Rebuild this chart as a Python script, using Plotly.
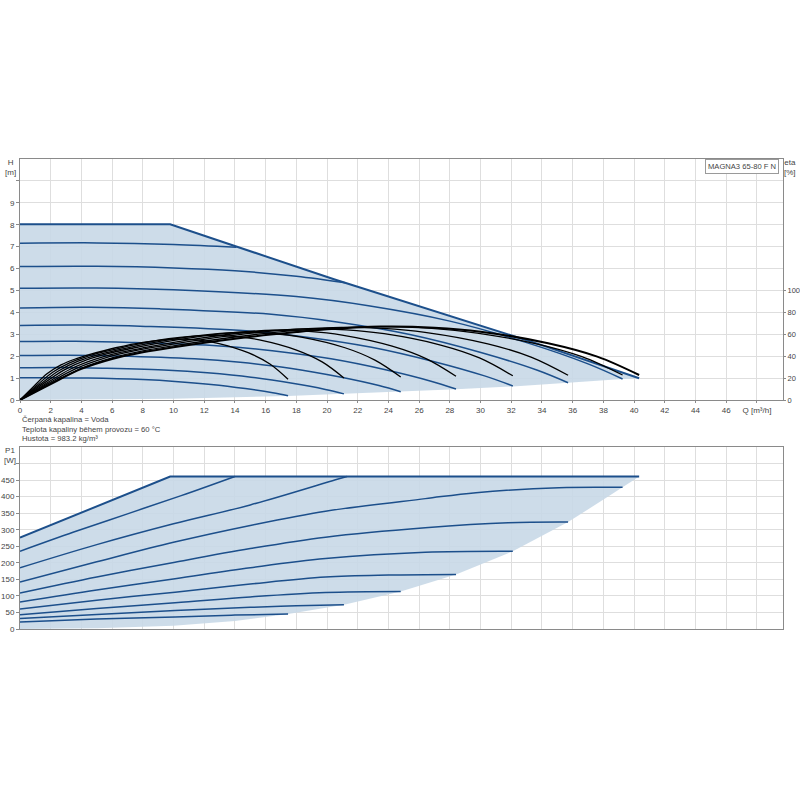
import plotly.graph_objects as go

# ---------------- data ----------------
# Q-H speed curves (Q in m3/h, H in m)
q_max = [0, 9.78, 20.5, 33.8, 40.33]
h_max = [8.02, 8.02, 5.5, 2.55, 0.99]

q_c7 = [0, 5, 10, 14.1]
h_c7 = [7.15, 7.17, 7.10, 6.97]
q_c6 = [0, 5, 10, 14, 18, 21.2]
h_c6 = [6.09, 6.10, 6.03, 5.90, 5.65, 5.35]
q_c5 = [0, 5, 10, 18, 22.7, 28, 33, 37, 39.25]
h_c5 = [5.10, 5.11, 5.03, 4.72, 4.30, 3.60, 2.62, 1.65, 0.96]
q_c4 = [0, 4.55, 9.10, 16.37, 20.65, 25.47, 30.02, 33.66, 35.70]
h_c4 = [4.20, 4.23, 4.16, 3.91, 3.56, 2.98, 2.17, 1.37, 0.79]
q_c3 = [0, 4.09, 8.18, 14.72, 18.56, 22.90, 26.99, 30.26, 32.10]
h_c3 = [3.40, 3.42, 3.36, 3.16, 2.88, 2.41, 1.75, 1.10, 0.64]
q_c2b = [0, 3.62, 7.24, 13.02, 16.43, 20.26, 23.88, 26.77, 28.40]
h_c2b = [2.67, 2.68, 2.63, 2.47, 2.25, 1.88, 1.37, 0.86, 0.50]
q_c2 = [0, 3.16, 6.32, 11.37, 14.34, 17.69, 20.85, 23.38, 24.80]
h_c2 = [2.03, 2.04, 2.01, 1.88, 1.72, 1.44, 1.05, 0.66, 0.38]
q_c1b = [0, 2.69, 5.38, 9.68, 12.20, 15.05, 17.74, 19.89, 21.10]
h_c1b = [1.47, 1.48, 1.45, 1.36, 1.24, 1.04, 0.76, 0.48, 0.28]
q_c1 = [0, 2.22, 4.45, 8.01, 10.10, 12.45, 14.68, 16.46, 17.46]
h_c1 = [1.01, 1.01, 1.00, 0.93, 0.85, 0.71, 0.52, 0.33, 0.19]

# lower edge of the operating area (curve end points)
q_low = [40.33, 39.25, 35.7, 32.1, 28.4, 24.8, 21.1, 17.46, 10, 0]
h_low = [0.99, 0.96, 0.79, 0.62, 0.49, 0.38, 0.27, 0.18, 0.06, 0]

# efficiency curves (eta in %)
q_e_max = [0, 2, 4, 6, 8, 10, 14, 18, 20, 23.5, 27, 30, 34.4, 37.6, 40.33]
e_e_max = [0, 14.6, 28.4, 37.5, 43.6, 48.2, 56, 62, 64.5, 67, 66, 62.4, 51.8, 39.6, 22.8]
q_e5 = [0, 2, 4, 6, 8, 10, 14, 18, 23, 26, 29, 33.5, 36.6, 39.25]
e_e5 = [0, 15, 29, 38.5, 44.8, 49.5, 57.5, 63.5, 67, 66, 62.4, 51.8, 39.6, 22.8]
q_e4 = [0, 1.82, 3.64, 5.46, 7.28, 9.10, 12.73, 16.37, 20.92, 23.65, 26.38, 30.47, 33.29, 35.70]
e_e4 = [0, 14.9, 28.7, 38.1, 44.4, 49.0, 56.9, 62.9, 66.3, 65.3, 61.8, 51.3, 39.2, 22.6]
q_e3 = [0, 1.64, 3.27, 4.91, 6.54, 8.18, 11.45, 14.72, 18.81, 21.26, 23.72, 27.40, 29.93, 32.10]
e_e3 = [0, 14.6, 28.1, 37.3, 43.5, 48.0, 55.8, 61.6, 65.0, 64.0, 60.5, 50.2, 38.4, 22.1]
q_e2b = [0, 1.45, 2.89, 4.34, 5.79, 7.24, 10.13, 13.02, 16.64, 18.81, 20.98, 24.24, 26.48, 28.40]
e_e2b = [0, 14.25, 27.55, 36.6, 42.6, 47.0, 54.6, 60.3, 63.65, 62.7, 59.3, 49.2, 37.6, 21.7]
q_e2 = [0, 1.26, 2.53, 3.79, 5.05, 6.32, 8.85, 11.37, 14.53, 16.43, 18.32, 21.17, 23.12, 24.80]
e_e2 = [0, 13.8, 26.7, 35.4, 41.2, 45.5, 52.9, 58.4, 61.6, 60.7, 57.4, 47.7, 36.4, 21.0]
q_e1b = [0, 1.08, 2.15, 3.23, 4.30, 5.38, 7.53, 9.68, 12.36, 13.98, 15.59, 18.01, 19.68, 21.10]
e_e1b = [0, 13.2, 25.5, 33.9, 39.4, 43.6, 50.6, 55.9, 59.0, 58.1, 54.9, 45.6, 34.8, 20.1]
q_e1 = [0, 0.89, 1.78, 2.67, 3.56, 4.45, 6.23, 8.01, 10.23, 11.56, 12.90, 14.90, 16.28, 17.46]
e_e1 = [0, 12.45, 24.1, 32.0, 37.2, 41.1, 47.7, 52.7, 55.6, 54.8, 51.8, 43.0, 32.9, 18.9]

# power curves P1 (W)
qp_max = [0, 9.78, 40.33]
p_max = [276, 461, 461]
qp_c7 = [0, 3.5, 7, 10.5, 14.0]
p_c7 = [235, 293, 348, 403, 461]
qp_c6 = [0, 5, 10, 15, 20.55, 21.3]
p_c6 = [185, 255, 318, 375, 451, 461]
qp_c5 = [0, 5, 10, 15, 19.9, 26.4, 29.7, 35.1, 39.25]
p_c5 = [142, 203, 262, 313, 356, 394, 412, 427, 428]
qp_c4 = [0, 5, 10.1, 15, 19.9, 26.4, 31.8, 35.7]
p_c4 = [108.5, 157, 202, 243, 277.5, 306, 321, 323]
qp_c3 = [0, 5, 10.1, 15, 19.9, 26.4, 32.1]
p_c3 = [81.5, 118, 152, 185, 212.8, 232, 235]
qp_c2b = [0, 5, 10.1, 15, 19.9, 24, 28.4]
p_c2b = [60.5, 87, 111.4, 136, 157, 163, 165]
qp_c2 = [0, 5, 10.1, 15, 19.9, 24.8]
p_c2 = [43, 62, 79, 97, 110.4, 113.5]
qp_c1b = [0, 5, 10.1, 15, 18, 21.1]
p_c1b = [31.5, 44, 55.7, 65.5, 70, 73]
qp_c1 = [0, 5, 10.1, 14, 17.46]
p_c1 = [21, 30, 36.5, 42, 45.6]

qp_low = [40.33, 39.25, 35.7, 32.1, 28.4, 24.8, 21.1, 17.46, 14, 10, 5, 0]
p_low = [461, 428, 323, 235, 165, 113.5, 73, 45.6, 24, 10, 2, 0]

x_ticks = list(range(0, 50, 2))
x_ticktext = [str(v) for v in range(0, 48, 2)] + ["Q [m³/h]"]

# ---------------- styling ----------------
BLUE = "#1c4f8b"
FILL = "rgba(200,216,231,0.9)"
GRID = "#dedede"
AXL = "#8a8a8a"
TXT = "#444444"
FONT = "Liberation Sans, Arial, sans-serif"

W = 800

fig = go.Figure()

# top chart: fill
fig.add_trace(go.Scatter(x=q_max + q_low, y=h_max + h_low, fill="toself",
                         fillcolor=FILL, line=dict(width=0), mode="lines",
                         hoverinfo="skip", xaxis="x", yaxis="y"))
qh = [(q_c7, h_c7), (q_c6, h_c6), (q_c5, h_c5), (q_c4, h_c4), (q_c3, h_c3),
      (q_c2b, h_c2b), (q_c2, h_c2), (q_c1b, h_c1b), (q_c1, h_c1)]
for qq, hh in qh:
    fig.add_trace(go.Scatter(x=qq, y=hh, mode="lines",
                             line=dict(color=BLUE, width=1.5, shape="spline", smoothing=1.0),
                             xaxis="x", yaxis="y"))
fig.add_trace(go.Scatter(x=q_max, y=h_max, mode="lines",
                         line=dict(color=BLUE, width=2), xaxis="x", yaxis="y"))

eta = [(q_e1, e_e1), (q_e1b, e_e1b), (q_e2, e_e2), (q_e2b, e_e2b), (q_e3, e_e3),
       (q_e4, e_e4), (q_e5, e_e5)]
for qq, ee in eta:
    fig.add_trace(go.Scatter(x=qq, y=ee, mode="lines",
                             line=dict(color="black", width=1.3, shape="spline", smoothing=1.0),
                             xaxis="x", yaxis="y2"))
fig.add_trace(go.Scatter(x=q_e_max, y=e_e_max, mode="lines",
                         line=dict(color="black", width=2, shape="spline", smoothing=1.0),
                         xaxis="x", yaxis="y2"))

# bottom chart
fig.add_trace(go.Scatter(x=qp_max + qp_low, y=p_max + p_low, fill="toself",
                         fillcolor=FILL, line=dict(width=0), mode="lines",
                         hoverinfo="skip", xaxis="x2", yaxis="y3"))
pw = [(qp_c7, p_c7), (qp_c6, p_c6), (qp_c5, p_c5), (qp_c4, p_c4), (qp_c3, p_c3),
      (qp_c2b, p_c2b), (qp_c2, p_c2), (qp_c1b, p_c1b), (qp_c1, p_c1)]
for qq, pp in pw:
    fig.add_trace(go.Scatter(x=qq, y=pp, mode="lines",
                             line=dict(color=BLUE, width=1.5, shape="spline", smoothing=1.0),
                             xaxis="x2", yaxis="y3"))
fig.add_trace(go.Scatter(x=qp_max, y=p_max, mode="lines",
                         line=dict(color=BLUE, width=2), xaxis="x2", yaxis="y3"))

axis_common = dict(showgrid=True, gridcolor=GRID, gridwidth=1, showline=True,
                   linecolor=AXL, linewidth=1, ticks="outside", ticklen=3,
                   tickcolor=AXL, tickfont=dict(size=8, color=TXT, family=FONT),
                   zeroline=False, automargin=False)


def py_paper(p):
    # screen pixel row -> paper y
    return 1 - p / W


def px_x(p):
    # screen pixel column -> paper x (plot area 20..783 on screen)
    return (p - 20) / 763.0


top_dom = [py_paper(400), py_paper(159)]
bot_dom = [py_paper(629), py_paper(447)]

fig.update_layout(
    width=W, height=W, autosize=False,
    margin=dict(l=20, r=W - 783, t=0, b=0, pad=0),
    paper_bgcolor="white", plot_bgcolor="white",
    showlegend=False,
    font=dict(family=FONT, size=8, color=TXT),
    xaxis=dict(axis_common, domain=[0, 1], range=[0, 49.7], anchor="y", ticklen=2,
               tickmode="array", tickvals=x_ticks, ticktext=x_ticktext, mirror=True),
    yaxis=dict(axis_common, domain=top_dom, range=[0, 11], anchor="x",
               tickmode="array", tickvals=list(range(0, 11)),
               ticktext=[str(v) for v in range(0, 10)] + [""], mirror=True),
    yaxis2=dict(axis_common, overlaying="y", side="right", range=[0, 220], anchor="x",
                showgrid=False, tickmode="array", tickvals=[0, 20, 40, 60, 80, 100],
                ticklen=2, tickfont=dict(size=7.5, color=TXT, family=FONT)),
    xaxis2=dict(axis_common, domain=[0, 1], range=[0, 49.7], anchor="y3", ticks="",
                tickmode="array", tickvals=x_ticks, showticklabels=False, mirror=True),
    yaxis3=dict(axis_common, domain=bot_dom, range=[0, 550], anchor="x2",
                tickmode="array", tickvals=list(range(0, 501, 50)),
                ticktext=[str(v) for v in range(0, 451, 50)] + [""], mirror=True),
)

ann = [
    dict(text="H<br>[m]", x=px_x(10), y=py_paper(168)),
    dict(text="eta<br>[%]", x=px_x(790), y=py_paper(168)),
    dict(text="P1<br>[W]", x=px_x(10), y=py_paper(456)),
]
for a in ann:
    fig.add_annotation(xref="paper", yref="paper", showarrow=False,
                       xanchor="center", yanchor="middle",
                       font=dict(size=8, color=TXT, family=FONT), align="center", **a)

fig.add_annotation(xref="paper", yref="paper", x=px_x(779), y=py_paper(159.5),
                   xanchor="right", yanchor="top", showarrow=False,
                   text="MAGNA3 65-80 F N", font=dict(size=7.6, color=TXT, family=FONT),
                   bordercolor="#9a9a9a", borderwidth=1, borderpad=2, bgcolor="white")

notes = ["Čerpaná kapalina = Voda",
         "Teplota kapaliny během provozu = 60 °C",
         "Hustota = 983.2 kg/m³"]
for i, t in enumerate(notes):
    fig.add_annotation(xref="paper", yref="paper", x=px_x(20), y=py_paper(419 + 10 * i),
                       xanchor="left", yanchor="middle", showarrow=False, text=t,
                       font=dict(size=7.7, color=TXT, family=FONT))

# the default page body has an 8px margin; remove it so the 800x800 figure fills the window
fig.write_html("out.html", post_script="document.body.style.margin='0px';",
               config={"displayModeBar": False})
